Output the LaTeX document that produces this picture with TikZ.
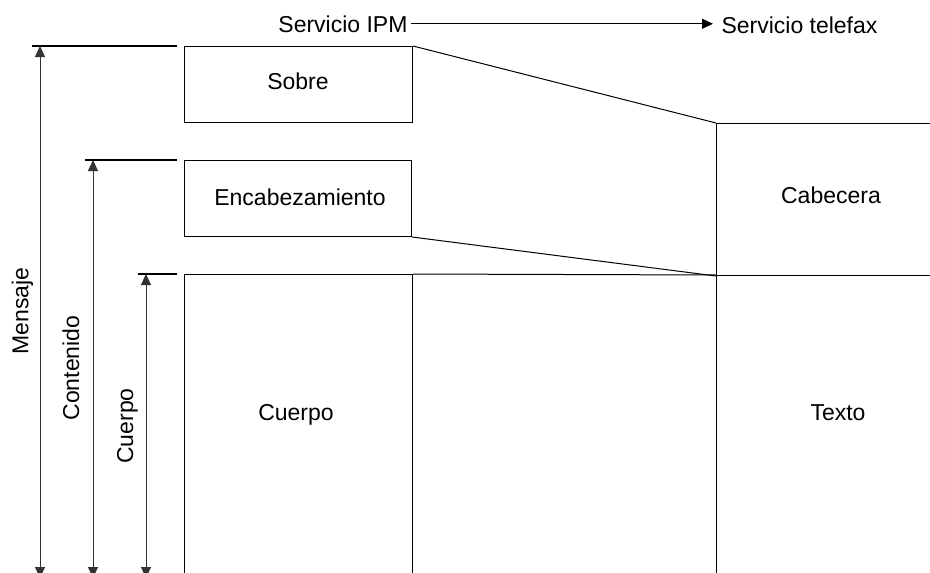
\documentclass[tikz,border=0pt]{standalone}
\usepackage{fontspec}
\setmainfont{Liberation Sans}
\usetikzlibrary{arrows.meta}
\begin{document}
\begin{tikzpicture}[x=1pt,y=-1pt,
  font=\fontsize{23}{27}\selectfont, line width=1pt,
  box/.style={draw, inner sep=0pt, anchor=north west, minimum width=228pt, minimum height=76pt},
  lbl/.style={inner sep=0pt},
  dimarrow/.style={{Triangle[width=10pt,length=11pt]}-{Triangle[width=10pt,length=11pt]}, black!80},
  tickline/.style={line width=1.6pt}]
\useasboundingbox (0,0) rectangle (930,573);
\clip (0,0) rectangle (930,573);
% top labels and arrow
\node[lbl, anchor=base east] (ipm) at (408,32) {Servicio IPM};
\node[lbl, anchor=base west] (fax) at (721,33) {Servicio telefax};
\draw[-{Triangle[width=10pt,length=11pt]}, shorten <=3pt, shorten >=8pt] (ipm.east) -- (fax.west |- ipm.east);
% left boxes
\node[box] (sobre) at (184,46) {};
\node[lbl, anchor=base] (sobrel) at (298,89) {Sobre};
\node[box, minimum width=227pt] (enc) at (184,160) {};
\node[lbl, anchor=base] (encl) at (300,205) {Encabezamiento};
\node[box, minimum height=320pt] (cuerpo) at (184,274) {};
\node[lbl, anchor=base] (cuerpol) at (296,420) {Cuerpo};
% right boxes
\node[box, minimum width=232pt, minimum height=152pt] (cab) at (716,123) {};
\node[lbl, anchor=base] (cabl) at (831,203) {Cabecera};
\node[box, minimum width=232pt, minimum height=320pt] (texto) at (716,275) {};
\node[lbl, anchor=base] (textol) at (838,420) {Texto};
% connecting lines
\draw (sobre.north east) -- (cab.north west);
\draw (enc.south east) -- (cab.south west);
\draw (cuerpo.north east) -- (texto.north west);
% ticks
\coordinate (t1a) at (32,46);  \coordinate (t1b) at (177,46);
\coordinate (t2a) at (85,160); \coordinate (t2b) at (177,160);
\coordinate (t3a) at (138,274); \coordinate (t3b) at (177,274);
\draw[tickline] (t1a) -- (t1b);
\draw[tickline] (t2a) -- (t2b);
\draw[tickline] (t3a) -- (t3b);
% dimension arrows
\coordinate (d1a) at (40,46);  \coordinate (d1b) at (40,578);
\coordinate (d2a) at (93,160); \coordinate (d2b) at (93,578);
\coordinate (d3a) at (146,274); \coordinate (d3b) at (146,578);
\draw[dimarrow] (d1a) -- (d1b);
\draw[dimarrow] (d2a) -- (d2b);
\draw[dimarrow] (d3a) -- (d3b);
% rotated labels
\node[lbl, rotate=90] (lmen) at (22.5,311) {Mensaje};
\node[lbl, rotate=90] (lcon) at (71,368) {Contenido};
\node[lbl, rotate=90] (lcue) at (127.5,426) {Cuerpo};
\end{tikzpicture}
\end{document}
